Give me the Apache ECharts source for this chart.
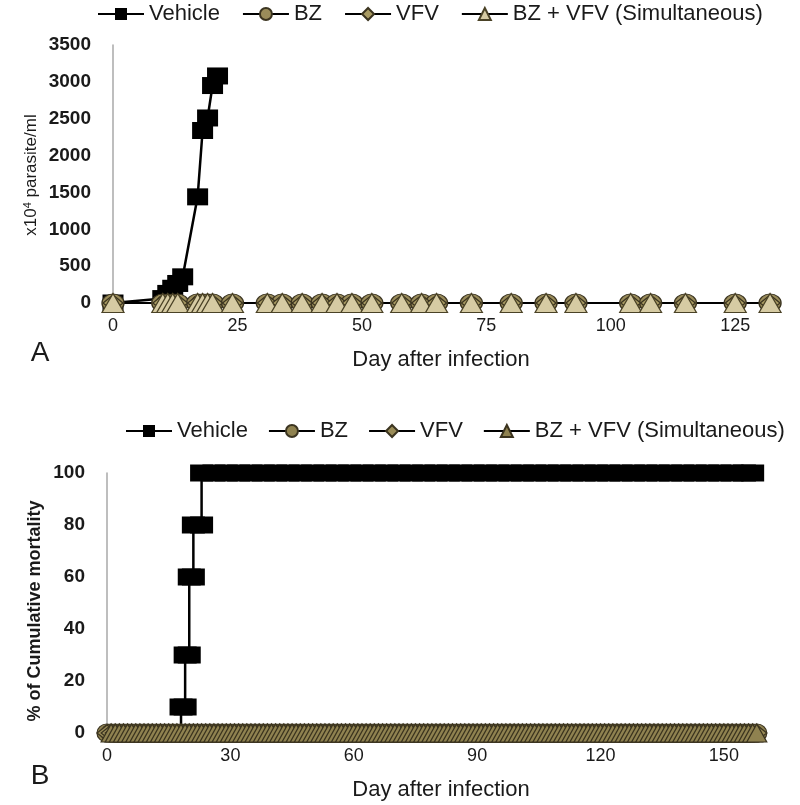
<!DOCTYPE html>
<html><head><meta charset="utf-8">
<script src="https://cdn.jsdelivr.net/npm/echarts@6/dist/echarts.min.js"></script>
<style>html,body{margin:0;padding:0;background:#fff}#c{width:800px;height:805px}</style>
</head><body><div id="c"></div><script>
// ---------- names ----------
const seriesNames = ['Vehicle', 'BZ', 'VFV', 'BZ + VFV (Simultaneous)'];

// ---------- Panel A: parasitemia (x10^4 parasite/ml) ----------
const xTicksA = [0, 25, 50, 75, 100, 125];
const yTicksA = [0, 500, 1000, 1500, 2000, 2500, 3000, 3500];
const vehicleADays   = [0, 10, 11, 12, 13, 14, 17, 18, 19, 20, 21];
const vehicleAValues = [0, 60, 130, 200, 265, 355, 1440, 2340, 2510, 2950, 3080];
const treatedADays   = [0, 10, 11, 12, 13, 17, 18, 19, 20, 24, 31, 34, 38, 42, 45, 48, 52, 58, 62, 65, 72, 80, 87, 93, 104, 108, 115, 125, 132];
const bzAValues      = [0, 0, 0, 0, 0, 0, 0, 0, 0, 0, 0, 0, 0, 0, 0, 0, 0, 0, 0, 0, 0, 0, 0, 0, 0, 0, 0, 0, 0];
const vfvAValues     = [0, 0, 0, 0, 0, 0, 0, 0, 0, 0, 0, 0, 0, 0, 0, 0, 0, 0, 0, 0, 0, 0, 0, 0, 0, 0, 0, 0, 0];
const bzVfvAValues   = [0, 0, 0, 0, 0, 0, 0, 0, 0, 0, 0, 0, 0, 0, 0, 0, 0, 0, 0, 0, 0, 0, 0, 0, 0, 0, 0, 0, 0];

// ---------- Panel B: cumulative mortality (%) ----------
const xTicksB = [0, 30, 60, 90, 120, 150];
const yTicksB = [0, 20, 40, 60, 80, 100];
const vehicleBDays = [18, 18, 19, 19, 20, 20, 21, 21, 23,
  23, 26, 29, 32, 35, 38, 41, 44, 47, 50, 53, 56, 59, 62, 65, 68, 71, 74, 77, 80, 83, 86, 89, 92,
  95, 98, 101, 104, 107, 110, 113, 116, 119, 122, 125, 128, 131, 134, 137, 140, 143, 146, 149, 152, 155, 157];
const vehicleBValues = [0, 10, 10, 30, 30, 60, 60, 80, 80,
  100, 100, 100, 100, 100, 100, 100, 100, 100, 100, 100, 100, 100, 100, 100, 100, 100, 100, 100, 100, 100, 100, 100, 100,
  100, 100, 100, 100, 100, 100, 100, 100, 100, 100, 100, 100, 100, 100, 100, 100, 100, 100, 100, 100, 100, 100];
// BZ and VFV groups: observed daily, no deaths
const treatedBDays = [
  0, 1, 2, 3, 4, 5, 6, 7, 8, 9, 10, 11, 12, 13, 14, 15, 16, 17, 18, 19, 20,
  21, 22, 23, 24, 25, 26, 27, 28, 29, 30, 31, 32, 33, 34, 35, 36, 37, 38, 39, 40,
  41, 42, 43, 44, 45, 46, 47, 48, 49, 50, 51, 52, 53, 54, 55, 56, 57, 58, 59, 60,
  61, 62, 63, 64, 65, 66, 67, 68, 69, 70, 71, 72, 73, 74, 75, 76, 77, 78, 79, 80,
  81, 82, 83, 84, 85, 86, 87, 88, 89, 90, 91, 92, 93, 94, 95, 96, 97, 98, 99, 100,
  101, 102, 103, 104, 105, 106, 107, 108, 109, 110, 111, 112, 113, 114, 115, 116, 117, 118, 119, 120,
  121, 122, 123, 124, 125, 126, 127, 128, 129, 130, 131, 132, 133, 134, 135, 136, 137, 138, 139, 140,
  141, 142, 143, 144, 145, 146, 147, 148, 149, 150, 151, 152, 153, 154, 155, 156, 157, 158];
const treatedBValues = [
  0, 0, 0, 0, 0, 0, 0, 0, 0, 0, 0, 0, 0, 0, 0, 0, 0, 0, 0, 0, 0,
  0, 0, 0, 0, 0, 0, 0, 0, 0, 0, 0, 0, 0, 0, 0, 0, 0, 0, 0, 0,
  0, 0, 0, 0, 0, 0, 0, 0, 0, 0, 0, 0, 0, 0, 0, 0, 0, 0, 0, 0,
  0, 0, 0, 0, 0, 0, 0, 0, 0, 0, 0, 0, 0, 0, 0, 0, 0, 0, 0, 0,
  0, 0, 0, 0, 0, 0, 0, 0, 0, 0, 0, 0, 0, 0, 0, 0, 0, 0, 0, 0,
  0, 0, 0, 0, 0, 0, 0, 0, 0, 0, 0, 0, 0, 0, 0, 0, 0, 0, 0, 0,
  0, 0, 0, 0, 0, 0, 0, 0, 0, 0, 0, 0, 0, 0, 0, 0, 0, 0, 0, 0,
  0, 0, 0, 0, 0, 0, 0, 0, 0, 0, 0, 0, 0, 0, 0, 0, 0, 0];

// ---------- helpers / styles ----------
const pairs = (xs, ys) => xs.map((x, i) => [x, ys[i]]);
const FONT = '"Liberation Sans", Arial, sans-serif';
const TXT = '#1a1a1a';
const circleSym = 'path://M0,10A10,10,0,1,1,20,10A10,10,0,1,1,0,10Z';
const edge = '#3b3420';

function lineSeries(name, grid, data, sym, size, fill, border, lw) {
  return {
    name: name, type: 'line', xAxisIndex: grid, yAxisIndex: grid, data: data,
    symbol: sym, symbolSize: size, clip: false, animation: false, silent: true,
    itemStyle: { color: fill, borderColor: border, borderWidth: border === fill ? 0 : 1.2 },
    lineStyle: { color: '#000', width: lw }
  };
}

const chart = echarts.init(document.getElementById('c'));
const legendBase = {
  orient: 'horizontal', itemWidth: 46, itemHeight: 15, itemGap: 22, padding: 0, selectedMode: false,
  textStyle: { fontSize: 22, fontFamily: FONT, color: TXT }
};

chart.setOption({
  animation: false,
  backgroundColor: '#fff',
  legend: [
    Object.assign({}, legendBase, { left: 97, top: 3, data: seriesNames }),
    Object.assign({}, legendBase, { left: 125, top: 420, itemGap: 20,
      data: seriesNames.map(n => 'B:' + n), formatter: n => n.replace('B:', '') })
  ],
  grid: [
    { left: 113, top: 45, width: 672, height: 258 },
    { left: 107, top: 473, width: 658, height: 260 }
  ],
  xAxis: [
    { type: 'value', gridIndex: 0, min: xTicksA[0], max: 135, interval: 25,
      axisLine: { show: false }, axisTick: { show: false }, splitLine: { show: false },
      axisLabel: { margin: 14, fontSize: 18, fontFamily: FONT, color: TXT,
        formatter: v => xTicksA.indexOf(v) >= 0 ? String(v) : '' } },
    { type: 'value', gridIndex: 1, min: xTicksB[0], max: 160, interval: 30,
      axisLine: { show: false }, axisTick: { show: false }, splitLine: { show: false },
      axisLabel: { margin: 14, fontSize: 18, fontFamily: FONT, color: TXT,
        formatter: v => xTicksB.indexOf(v) >= 0 ? String(v) : '' } }
  ],
  yAxis: [
    { type: 'value', gridIndex: 0, min: yTicksA[0], max: yTicksA[yTicksA.length - 1], interval: 500,
      axisLine: { show: true, onZero: false, lineStyle: { color: '#a8a8a8', width: 1.5 } },
      axisTick: { show: false }, splitLine: { show: false },
      axisLabel: { margin: 22, fontSize: 19, fontWeight: 'bold', fontFamily: FONT, color: TXT,
        formatter: v => String(v) } },
    { type: 'value', gridIndex: 1, min: yTicksB[0], max: yTicksB[yTicksB.length - 1], interval: 20,
      axisLine: { show: true, onZero: false, lineStyle: { color: '#a8a8a8', width: 1.5 } },
      axisTick: { show: false }, splitLine: { show: false },
      axisLabel: { margin: 22, fontSize: 19, fontWeight: 'bold', fontFamily: FONT, color: TXT,
        formatter: v => String(v) } }
  ],
  graphic: [
    { type: 'text', x: 31, y: 175, rotation: Math.PI / 2, silent: true,
      style: { text: 'x10{sup|4} parasite/ml', fontSize: 17, fontFamily: FONT, fill: TXT,
        align: 'center', verticalAlign: 'middle',
        rich: { sup: { fontSize: 11, verticalAlign: 'top', fontFamily: FONT, fill: TXT } } } },
    { type: 'text', x: 441, y: 360, silent: true,
      style: { text: 'Day after infection', fontSize: 22, fontFamily: FONT, fill: TXT, align: 'center', verticalAlign: 'middle' } },
    { type: 'text', x: 40, y: 353, silent: true,
      style: { text: 'A', fontSize: 28, fontFamily: FONT, fill: TXT, align: 'center', verticalAlign: 'middle' } },
    { type: 'text', x: 35, y: 611, rotation: Math.PI / 2, silent: true,
      style: { text: '% of Cumulative mortality', fontSize: 18, fontWeight: 'bold', fontFamily: FONT, fill: TXT,
        align: 'center', verticalAlign: 'middle' } },
    { type: 'text', x: 441, y: 790, silent: true,
      style: { text: 'Day after infection', fontSize: 22, fontFamily: FONT, fill: TXT, align: 'center', verticalAlign: 'middle' } },
    { type: 'text', x: 40, y: 776, silent: true,
      style: { text: 'B', fontSize: 28, fontFamily: FONT, fill: TXT, align: 'center', verticalAlign: 'middle' } }
  ],
  series: [
    lineSeries('Vehicle', 0, pairs(vehicleADays, vehicleAValues), 'rect', [21, 17], '#000', '#000', 2.5),
    lineSeries('BZ', 0, pairs(treatedADays, bzAValues), circleSym, [22, 18], '#9a8c5a', edge, 2),
    lineSeries('VFV', 0, pairs(treatedADays, vfvAValues), 'diamond', [20, 16], '#a99b63', edge, 2),
    lineSeries('BZ + VFV (Simultaneous)', 0, pairs(treatedADays, bzVfvAValues), 'triangle', [22, 19], '#d6cba3', '#4a4226', 2),
    lineSeries('B:Vehicle', 1, pairs(vehicleBDays, vehicleBValues), 'rect', [23, 17], '#000', '#000', 2.5),
    lineSeries('B:BZ', 1, pairs(treatedBDays, treatedBValues), circleSym, [20, 18], '#8f8250', edge, 2),
    lineSeries('B:VFV', 1, pairs(treatedBDays, treatedBValues), 'diamond', [20, 16], '#9a8c58', edge, 2),
    lineSeries('B:BZ + VFV (Simultaneous)', 1, pairs(treatedBDays.slice(1), treatedBValues.slice(1)), 'triangle', [20, 18], '#8f8250', '#3a331e', 2)
  ]
});
</script></body></html>
